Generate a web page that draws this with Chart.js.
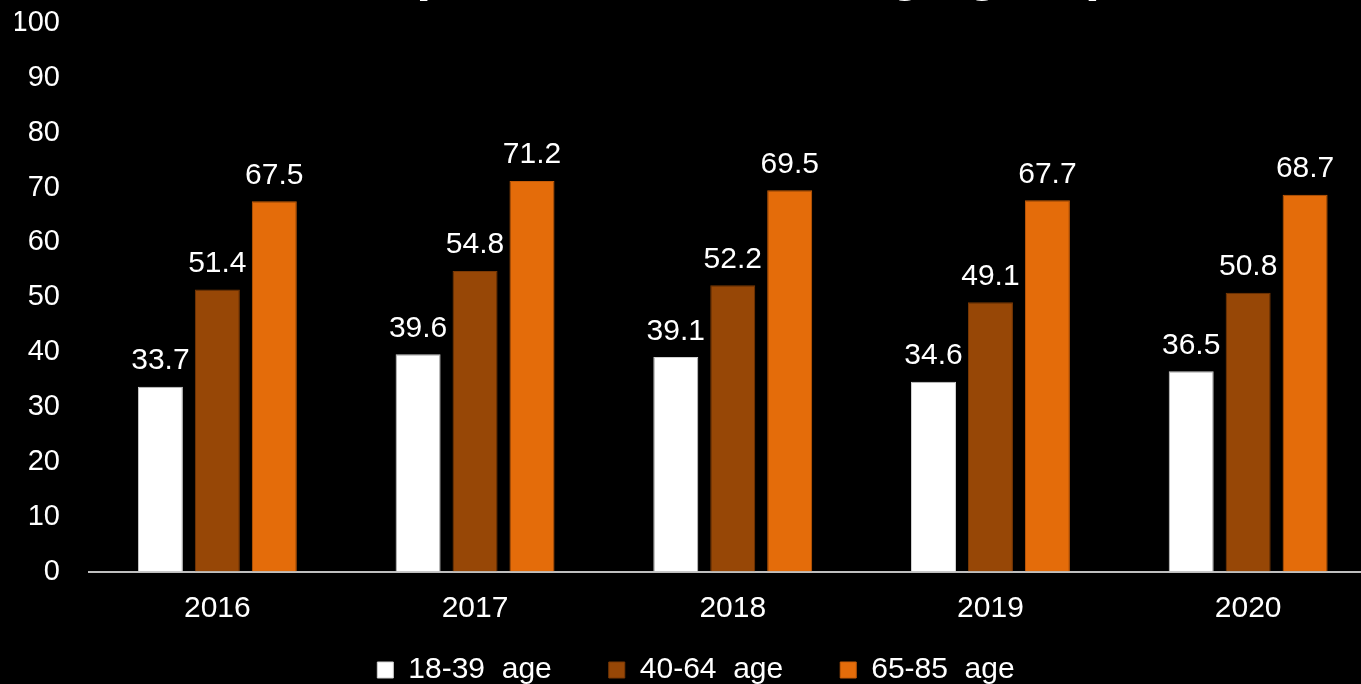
<!DOCTYPE html>
<html>
<head>
<meta charset="utf-8">
<title>Response rates over age groups</title>
<script src="https://cdn.jsdelivr.net/npm/chart.js@4/dist/chart.umd.min.js"></script>
<style>
  html, body { margin: 0; padding: 0; background: #000; overflow: hidden; width: 1361px; height: 684px; }
  #wrap { position: absolute; left: 0; top: -57px; width: 1390px; height: 781px; }
</style>
</head>
<body>
<div id="wrap"><canvas id="chart" width="1390" height="781"></canvas></div>
<script>
// Survey response rates (%) by year and age group
const years = ['2016', '2017', '2018', '2019', '2020'];
const seriesNames = ['18-39  age', '40-64  age', '65-85  age'];
const age18to39 = [33.7, 39.6, 39.1, 34.6, 36.5];
const age40to64 = [51.4, 54.8, 52.2, 49.1, 50.8];
const age65to85 = [67.5, 71.2, 69.5, 67.7, 68.7];
const yTicks = [0, 10, 20, 30, 40, 50, 60, 70, 80, 90, 100];

const FONT = "'Liberation Sans', Arial, sans-serif";

// Writes each bar's value just above it
const valueLabels = {
  id: 'valueLabels',
  afterDatasetsDraw(chart) {
    const ctx = chart.ctx;
    ctx.save();
    ctx.fillStyle = '#ffffff';
    ctx.font = '30px ' + FONT;
    ctx.textAlign = 'center';
    ctx.textBaseline = 'alphabetic';
    chart.data.datasets.forEach((ds, i) => {
      chart.getDatasetMeta(i).data.forEach((bar, j) => {
        ctx.fillText(ds.data[j].toFixed(1), bar.x, bar.y - 17.5);
      });
    });
    ctx.restore();
  }
};

// The wide label spacing also pads the legend vertically; pull the legend
// up into the free space below the year labels.
const legendLift = {
  id: 'legendLift',
  afterLayout(chart, args, opts) {
    const lg = chart.legend;
    if (lg) {
      lg.top -= opts.lift;
      lg.bottom -= opts.lift;
    }
  }
};

const barStyle = { barPercentage: 0.79, categoryPercentage: 0.663, borderWidth: 1 };

new Chart(document.getElementById('chart'), {
  type: 'bar',
  data: {
    labels: years,
    datasets: [
      Object.assign({ label: seriesNames[0], data: age18to39, backgroundColor: '#ffffff', borderColor: '#d0d0d0' }, barStyle),
      Object.assign({ label: seriesNames[1], data: age40to64, backgroundColor: '#974706', borderColor: '#7a3905' }, barStyle),
      Object.assign({ label: seriesNames[2], data: age65to85, backgroundColor: '#e46c0a', borderColor: '#c75c08' }, barStyle)
    ]
  },
  options: {
    responsive: false,
    animation: false,
    devicePixelRatio: 1,
    layout: { padding: { left: 15, right: 13, top: 0, bottom: 0 } },
    plugins: {
      title: {
        display: true,
        text: 'Response rates over age groups',
        color: '#ffffff',
        fullSize: false,
        font: { family: FONT, size: 53.5, weight: 'bold', lineHeight: 1.2 },
        padding: { top: 0, bottom: 15.8 }
      },
      legend: {
        position: 'bottom',
        labels: {
          color: '#ffffff',
          boxWidth: 16,
          boxHeight: 16,
          padding: 57,
          font: { family: FONT, size: 30 }
        }
      },
      legendLift: { lift: 29 },
      tooltip: { enabled: false }
    },
    scales: {
      x: {
        grid: { display: false, drawTicks: false },
        border: { display: true, color: '#bfbfbf', width: 2 },
        ticks: { color: '#ffffff', padding: 19.5, font: { family: FONT, size: 30 } },
        afterFit(scale) { scale.height = 55.5; }
      },
      y: {
        min: 0,
        max: 100,
        afterBuildTicks(scale) { scale.ticks = yTicks.map(v => ({ value: v })); },
        grid: { display: false, drawTicks: false },
        border: { display: false },
        ticks: { color: '#ffffff', padding: 28.5, font: { family: FONT, size: 29 } },
        afterFit(scale) { scale.width = 73.5; }
      }
    }
  },
  plugins: [valueLabels, legendLift]
});
</script>
</body>
</html>
